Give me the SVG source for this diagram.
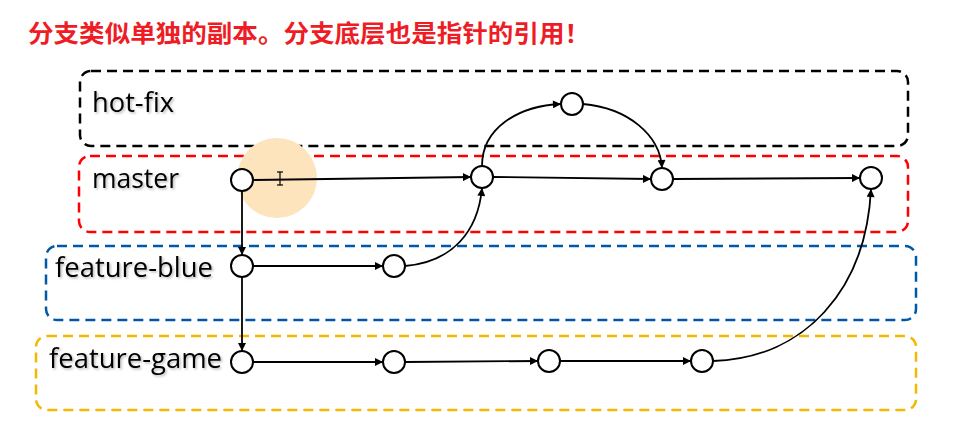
<svg xmlns="http://www.w3.org/2000/svg" width="964" height="425" viewBox="0 0 964 425">
  <defs>
    <marker id="arr" viewBox="0 0 10 10" refX="10" refY="5" markerWidth="11" markerHeight="8" markerUnits="userSpaceOnUse" orient="auto">
      <path d="M0,0 L10,5 L0,10 z" fill="#000"/>
    </marker>
    <filter id="shadow" x="-10%" y="-20%" width="130%" height="150%">
      <feDropShadow dx="1.5" dy="1.5" stdDeviation="0.8" flood-color="#000" flood-opacity="0.28"/>
    </filter>
  </defs>
  <style>
    .lane { fill: none; stroke-width: 2.5; stroke-dasharray: 10 6; }
    .label { font-family: "Open Sans", "Liberation Sans", Arial, sans-serif; font-size: 27px; fill: #000; filter: url(#shadow); }
    .node circle { fill: #fff; stroke: #000; stroke-width: 2; }
    .edge { fill: none; stroke: #000; stroke-width: 1.8; marker-end: url(#arr); }
    .title { font-family: "Noto Sans CJK SC", "Liberation Sans", sans-serif; font-size: 24px; font-weight: bold; fill: #ee1c25; }
  </style>
  <rect width="964" height="425" fill="#fff"/>

  <text class="title" x="28" y="42" textLength="562" lengthAdjust="spacingAndGlyphs">分支类似单独的副本。分支底层也是指针的引用！</text>

  <!-- lanes -->
  <g id="lane-hotfix">
    <rect class="lane" x="80" y="71" width="828" height="75" rx="11" stroke="#000"/>
    <text class="label" x="92" y="112" textLength="82" lengthAdjust="spacingAndGlyphs">hot-fix</text>
  </g>
  <g id="lane-master">
    <rect class="lane" x="79" y="156" width="829" height="76" rx="11" stroke="#ff0000"/>
    <text class="label" x="92" y="188" textLength="87" lengthAdjust="spacingAndGlyphs">master</text>
  </g>
  <g id="lane-blue">
    <rect class="lane" x="46" y="246" width="870" height="74" rx="11" stroke="#0058a8"/>
    <text class="label" x="55" y="277" textLength="158" lengthAdjust="spacingAndGlyphs">feature-blue</text>
  </g>
  <g id="lane-game">
    <rect class="lane" x="36" y="336" width="880" height="74" rx="11" stroke="#f5b800"/>
    <text class="label" x="49" y="368" textLength="173" lengthAdjust="spacingAndGlyphs">feature-game</text>
  </g>

  <!-- pointer highlight -->
  <circle cx="277" cy="178" r="40" fill="#fde4bd"/>
  <g stroke="#000" stroke-width="1.2" fill="none">
    <line x1="280" y1="172" x2="280" y2="185"/>
    <line x1="277" y1="172" x2="283" y2="172"/>
    <line x1="277" y1="185" x2="283" y2="185"/>
  </g>

  <!-- connectors -->
  <g id="connectors">
    <line class="edge" x1="253" y1="180" x2="471" y2="177"/>
    <line class="edge" x1="493" y1="177" x2="651" y2="179"/>
    <line class="edge" x1="673" y1="179" x2="860" y2="178"/>
    <path class="edge" d="M482,166 C482,128 518,106 561,104"/>
    <path class="edge" d="M583,104 C628,108 660,135 662,168"/>
    <line class="edge" x1="242" y1="191" x2="242" y2="255"/>
    <line class="edge" x1="242" y1="277" x2="242" y2="351"/>
    <line class="edge" x1="253" y1="266" x2="383" y2="266"/>
    <path class="edge" d="M405,266 C452,262 478,232 482,188"/>
    <line class="edge" x1="253" y1="362" x2="383" y2="362"/>
    <line class="edge" x1="405" y1="362" x2="538" y2="361"/>
    <line class="edge" x1="560" y1="361" x2="691" y2="361"/>
    <path class="edge" d="M713,361 C805,358 866,290 871,189"/>
  </g>

  <!-- nodes -->
  <g id="n-master1" class="node"><circle cx="242" cy="180" r="11"/></g>
  <g id="n-master2" class="node"><circle cx="482" cy="177" r="11"/></g>
  <g id="n-master3" class="node"><circle cx="662" cy="179" r="11"/></g>
  <g id="n-master4" class="node"><circle cx="871" cy="178" r="11"/></g>
  <g id="n-hotfix1" class="node"><circle cx="572" cy="104" r="11"/></g>
  <g id="n-blue1" class="node"><circle cx="242" cy="266" r="11"/></g>
  <g id="n-blue2" class="node"><circle cx="394" cy="266" r="11"/></g>
  <g id="n-game1" class="node"><circle cx="242" cy="362" r="11"/></g>
  <g id="n-game2" class="node"><circle cx="394" cy="362" r="11"/></g>
  <g id="n-game3" class="node"><circle cx="549" cy="361" r="11"/></g>
  <g id="n-game4" class="node"><circle cx="702" cy="361" r="11"/></g>
</svg>
